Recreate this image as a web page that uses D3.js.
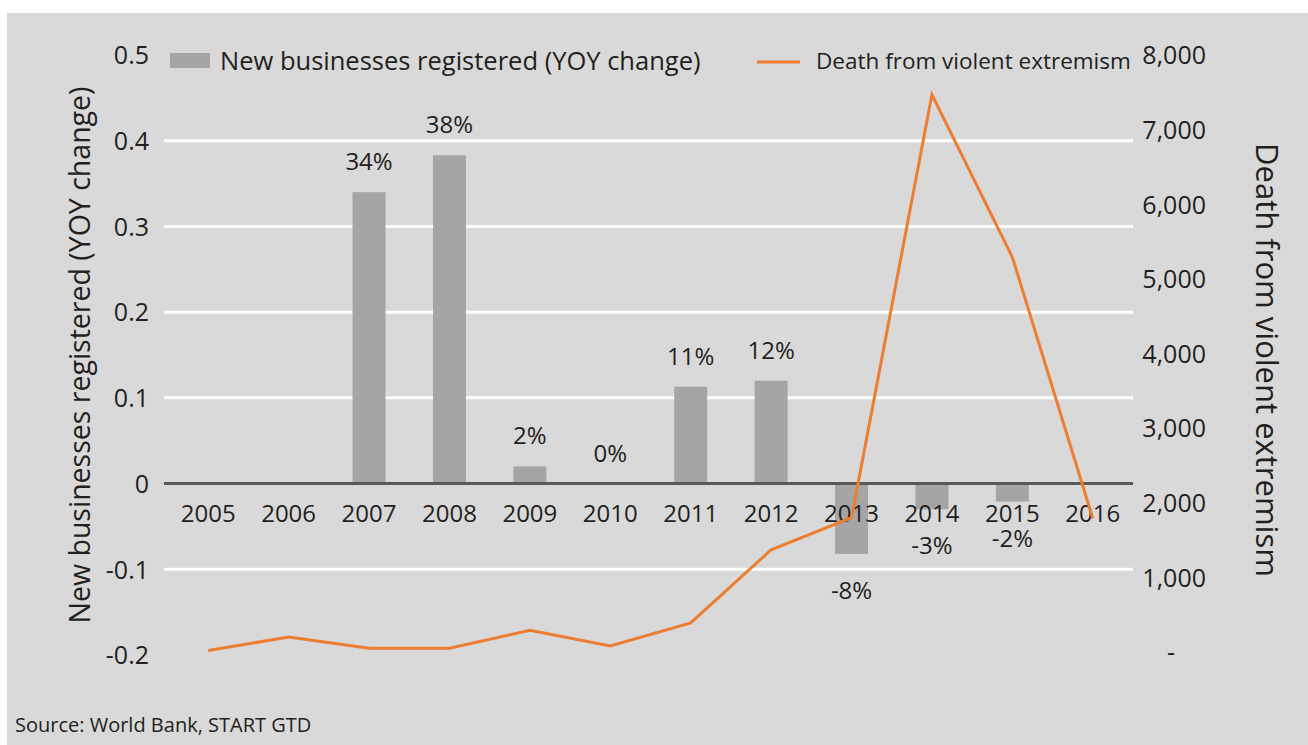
<!DOCTYPE html>
<meta charset="utf-8">
<style>
  body { margin: 0; background: #fff; }
  svg text { font-family: "Open Sans", sans-serif; fill: #231f20; }
</style>
<svg width="1308" height="745"></svg>
<script src="https://cdn.jsdelivr.net/npm/d3@7"></script>
<script>

var years = ["2005", "2006", "2007", "2008", "2009", "2010", "2011", "2012", "2013", "2014", "2015", "2016"];
// YOY change in new businesses registered (null = no bar)
var business = [null, null, 0.34, 0.383, 0.02, 0, 0.113, 0.12, -0.082, -0.03, -0.021, null];
var businessLabels = ["", "", "34%", "38%", "2%", "0%", "11%", "12%", "-8%", "-3%", "-2%", ""];
// deaths from violent extremism
var deaths = [20, 200, 50, 50, 290, 80, 390, 1370, 1800, 7470, 5290, 1790];
var leftTicks = [-0.2, -0.1, 0, 0.1, 0.2, 0.3, 0.4, 0.5];
var rightTicks = [0, 1000, 2000, 3000, 4000, 5000, 6000, 7000, 8000];

var svg = d3.select("svg");

svg.append("rect").attr("x", 7).attr("y", 13).attr("width", 1301).attr("height", 732).attr("fill", "#d9d9d9");

var x = d3.scaleBand().domain(years).range([168, 1133]).paddingInner(0.59).paddingOuter(0.295);
var yL = d3.scaleLinear().domain([-0.2, 0.5]).range([655, 55]);
var yR = d3.scaleLinear().domain([0, 8000]).range([652, 55]);

// gridlines
svg.append("g").selectAll("line")
    .data(leftTicks.filter(function(d) { return d !== 0 && d !== 0.5 && d !== -0.2; }))
  .enter().append("line")
    .attr("x1", 164).attr("x2", 1133)
    .attr("y1", function(d) { return yL(d); })
    .attr("y2", function(d) { return yL(d); })
    .attr("stroke", "#fff").attr("stroke-width", 3);

// left axis
var gL = svg.append("g").attr("transform", "translate(149,0)")
    .call(d3.axisLeft(yL).tickValues(leftTicks).tickSize(0).tickPadding(0)
      .tickFormat(function(d) { return d === 0 ? "0" : d3.format(".1f")(d).replace("\u2212", "-"); }));
gL.select(".domain").remove();
gL.selectAll("text").style("font-size", "25px").attr("dy", "0.35em");

// right axis
var gR = svg.append("g").attr("transform", "translate(1206,0)")
    .call(d3.axisLeft(yR).tickValues(rightTicks).tickSize(0).tickPadding(0).tickFormat(function(d) { return d === 0 ? "-" : d3.format(",")(d); }));
gR.select(".domain").remove();
gR.selectAll("text").style("font-size", "25px").attr("dy", "0.35em");
gR.selectAll(".tick").filter(function(d) { return d === 0; }).select("text").attr("dx", -31);

// bars
var data = years.map(function(y, i) { return {year: y, v: business[i], label: businessLabels[i], d: deaths[i]}; });
svg.append("g").selectAll("rect")
    .data(data.filter(function(d) { return d.v !== null; }))
  .enter().append("rect")
    .attr("x", function(d) { return x(d.year); })
    .attr("width", x.bandwidth())
    .attr("y", function(d) { return yL(Math.max(0, d.v)); })
    .attr("height", function(d) { return Math.abs(yL(d.v) - yL(0)); })
    .attr("fill", "#a5a5a5");

// zero line
svg.append("line").attr("x1", 164).attr("x2", 1133).attr("y1", yL(0)).attr("y2", yL(0))
    .attr("stroke", "#595959").attr("stroke-width", 3);

// year labels
svg.append("g").selectAll("text")
    .data(years)
  .enter().append("text")
    .attr("x", function(d) { return x(d) + x.bandwidth() / 2; })
    .attr("y", 522)
    .attr("text-anchor", "middle")
    .style("font-size", "24px")
    .text(function(d) { return d; });

// bar labels
svg.append("g").selectAll("text")
    .data(data.filter(function(d) { return d.label; }))
  .enter().append("text")
    .attr("x", function(d) { return x(d.year) + x.bandwidth() / 2; })
    .attr("y", function(d) { return d.v >= 0 ? yL(d.v) - 22 : yL(d.v) + 45; })
    .attr("text-anchor", "middle")
    .style("font-size", "24px")
    .text(function(d) { return d.label; });

// line
var line = d3.line()
    .x(function(d) { return x(d.year) + x.bandwidth() / 2; })
    .y(function(d) { return yR(d.d); });
svg.append("path").datum(data)
    .attr("d", line)
    .attr("fill", "none")
    .attr("stroke", "#ed7d31")
    .attr("stroke-width", 3);

// axis titles
svg.append("text")
    .attr("transform", "translate(80,355) rotate(-90)")
    .attr("text-anchor", "middle").attr("dy", "0.35em")
    .style("font-size", "28.5px")
    .text("New businesses registered (YOY change)");
svg.append("text")
    .attr("transform", "translate(1267,360) rotate(90)")
    .attr("text-anchor", "middle").attr("dy", "0.35em")
    .style("font-size", "31px")
    .text("Death from violent extremism");

// legend
svg.append("rect").attr("x", 170).attr("y", 53).attr("width", 40).attr("height", 15).attr("fill", "#a5a5a5");
svg.append("text").attr("x", 220).attr("y", 61).attr("dy", "0.35em").style("font-size", "25.5px")
    .text("New businesses registered (YOY change)");
svg.append("line").attr("x1", 757).attr("x2", 800).attr("y1", 62).attr("y2", 62)
    .attr("stroke", "#ed7d31").attr("stroke-width", 3);
svg.append("text").attr("x", 816).attr("y", 61).attr("dy", "0.35em").style("font-size", "22.5px")
    .text("Death from violent extremism");

// source
svg.append("text").attr("x", 15).attr("y", 725).attr("dy", "0.35em").style("font-size", "20px")
    .text("Source: World Bank, START GTD");

</script>
